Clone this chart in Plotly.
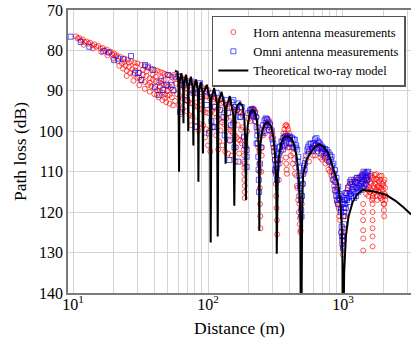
import math
import plotly.graph_objects as go

# ---------------- data (distance in m, path loss in dB) ----------------
horn_near = [
    (10.5,76.5),(10.8,77.0),(11.1,76.9),(11.4,77.5),(11.8,77.3),(12.2,77.9),(12.6,77.8),(13.0,78.3),
    (13.4,78.1),(13.9,78.7),(14.4,78.5),(14.9,79.1),(15.4,78.9),(16.0,79.5),(16.6,79.4),(17.2,80.0),
    (17.8,79.8),(18.4,80.5),(19.0,80.3),(19.6,81.0),(20.2,80.8),(20.8,81.5),(12.0,78.6),(14.0,79.5),
    (16.2,80.4),(18.0,81.2),(19.8,82.0),
    (21,81.2),(22.5,81.6),(24,82.0),(25.5,82.3),(27,82.7),(28.5,83.0),(30,83.2),(32,83.6),(34,83.9),
    (36,84.3),(38,84.5),(40,84.8),(42,85.0),(44,85.3),(46,85.5),(48,85.8),(50,86.0),(52,86.2),(54,86.5),
    (21.5,82.6),(23,83.2),(24.5,83.8),(26,84.1),(27.5,84.6),(29,85.0),(31,85.5),(33,86.0),(35,86.3),
    (37,86.9),(39,87.2),(41,87.6),(43,87.9),(45,88.2),(47,88.4),(49,88.8),(51,88.9),(53,89.3),
    (22,83.8),(23.5,84.5),(25,85.0),(26.5,85.6),(28,86.0),(30,86.8),(32,87.3),(34,87.8),(36,88.5),
    (38,88.8),(40,89.3),(42,89.8),(44,90.0),(46,90.4),(48,90.8),(50,91.2),(52,91.0),(54,91.6),
    (25,86.3),(28,87.5),(31,88.6),(34,89.5),(37,90.2),(40,90.8),(43,91.6),(46,92.3),(49,92.8),(52,93.2),
    (55,93.6),(33,84.8),(39,86.0),(45,86.8),(29,84.0),(35,85.2),(41,86.5),(47,87.3),(53,87.8),(26,83.0),
    (24,82.9),(37,88.0),(44,89.0),(50,90.0),(31,86.7),(42,91.0),(48,91.8),
]
horn_mid = [
    (56,86.0),(60,86.3),(64,86.8),(68,87.2),(72,87.6),(76,88.0),(80,88.3),(85,88.7),(90,89.0),(95,89.5),
    (100,89.8),(58,88.2),(62,88.6),(66,89.0),(70,89.4),(74,89.8),(78,90.2),(83,90.5),(88,90.8),(93,91.2),
    (98,91.4),(103,91.8),(56,90.0),(59,90.8),(62,91.3),(65,91.8),(68,92.3),(71,92.6),(74,93.0),(77,93.2),
    (80,93.8),(84,94.0),(88,94.5),(92,94.8),(96,95.3),(100,95.5),(57,92.5),(61,93.6),(65,94.5),(69,95.0),
    (73,96.0),(77,96.3),(82,97.5),(87,98.2),(92,98.5),(97,99.5),(102,100.0),(63,95.8),(75,98.5),(85,99.8),
    (95,101.5),(100,103.5),(104,105.0),(70,90.5),(81,91.8),(90,92.5),(58,87.0),(67,88.0),
    (106,91.5),(110,92.0),(114,91.8),(118,92.5),(122,92.3),(126,93.0),(130,92.8),(135,93.5),(140,93.3),
    (145,94.0),(150,94.2),(155,94.5),(160,95.0),(165,94.7),(170,95.2),(175,95.5),(180,96.0),
    (107,95.0),(112,95.5),(117,96.5),(122,97.0),(127,97.8),(132,98.3),(138,99.0),(143,99.5),(148,100.0),
    (153,100.5),(158,101.0),(163,101.5),(168,102.0),(173,102.3),(178,103.0),
    (108,99.0),(115,101.0),(121,102.5),(128,103.5),(134,105.0),(141,105.5),(150,106.0),(160,107.5),(170,105.5),
    (184,104.5),(185,106.0),(185,107.5),(186,109.0),(186,110.5),(186,112.0),(187,113.5),(187,115.0),
    (187,116.5),(186,108.0),(183,101.5),(181,99.0),
    (111,93.8),(119,94.3),(131,95.4),(137,96.8),(147,96.4),(156,97.8),(166,98.4),(176,99.6),(124,99.8),
    (145,102.4),(162,104.0),(119,104.5),
]
horn_far = [
    (192,104),(195,100),(200,97),(205,95.5),(210,94.6),(215,94.3),(220,94.6),(225,95.2),(230,96.5),
    (235,99.0),(238,102),(240,105),(241,110),(242,114),(243,118),(244,121),(245,124),(205,97.5),(215,96.0),
    (225,97.5),(232,100),(218,95.0),(208,96.2),(212,95.0),(236,104),(239,108),
    (248,110),(250,106),(252,104),(256,101),(262,99),(268,97.8),(275,97.0),(282,97.2),(290,98.0),(297,99.5),
    (303,101.5),(305,104),(308,104),(310,106),(312,107),(313,110),(315,110),(318,113),(320,116),(322,119),
    (324,122),(325,125.5),(265,100.5),(285,99),(295,101.5),(272,98.5),(300,100.5),
    (335,112),(340,108),(348,105),(355,102.5),(362,100.5),(368,99.5),(374,98.6),(380,98.4),(386,98.8),
    (392,99.5),(398,100.5),(405,101.5),(412,103),(420,104),(428,105.5),(436,107),(444,109),(452,111),
    (460,114),(466,117),(472,120),(478,123),(483,125),(486,121),(378,106.5),(380,108),(382,109.5),
    (384,110.5),(475,118),(480,121.5),(485,124.5),(376,100.5),(388,101),(370,102),(395,103),
    (345,107),(360,104),(400,104),(410,106),(425,108),(440,110.5),(455,113.5),(470,116),(392,104),(365,101.5),
    (495,118),(505,113),(515,110),(530,107),(550,105.5),(570,104.5),(590,104),(610,103.5),(630,103.2),
    (650,103.5),(670,104),(690,104.5),(710,105),(730,105.5),(750,106),(770,106.5),(790,107.5),(810,108.5),
    (830,110),(850,111),(870,112.5),(890,114),(910,116),(930,119),(950,122),(965,125),(980,128),(995,130.5),
    (1005,127),(700,107),(740,108),(780,109.5),(820,111),(860,113.5),(900,117.5),(940,121),(960,119),
    (650,105),(600,106),
    (560,107.5),(620,106),(680,106.5),(720,106.2),(760,107.2),(800,110),(840,112),(880,115),(920,118),
    (985,126),
    (1010,124),(1020,121),(1030,119),(1045,117),(1060,115.5),(1080,114.5),(1100,113.5),(1130,113),
    (1160,112.5),(1200,112),(1250,111.5),(1300,111.5),(1350,111.8),(1400,111),(1450,111.3),(1500,111.5),
    (1550,111.8),(1600,111),(1650,111.5),(1700,112),(1750,111.8),(1800,112),(1850,112.5),(1900,112),
    (1950,113),(2000,113.5),(2050,114),
    (1420,114),(1480,115.5),(1540,116),(1600,114.5),(1660,116.5),(1720,115),(1780,116),(1840,115),
    (1900,116.5),(1960,117),(2020,118),(2060,117),(1500,113.5),(1560,113.8),(1700,114),(1800,113.8),
    (1120,115),(1180,114.5),(1230,113.5),(1280,113),(1330,113.5),(1380,112.5),(1430,112),(1470,113),
    (1510,112.2),(1530,114.5),(1570,115),(1590,112.5),(1620,113),(1640,117),(1680,113.5),(1690,115.5),
    (1730,113),(1760,114.5),(1790,117),(1820,113.5),(1860,114),(1880,116),(1920,114),(1940,115.5),
    (1970,114.5),(1990,112.5),(2040,115.5),(2070,116),(1380,110.5),(1450,110.2),(1610,110.5),(1710,110.8),
    (1760,110.6),(1870,111),(1930,111),(2030,112),
    (1410,118),(1410,120),(1410,122),(1410,124.5),(1412,126.5),(1412,129.5),
    (1655,116),(1655,118),(1655,120),(1655,122),(1655,124),(1655,126),(1657,128.5),
    (1990,116),(2000,118),(2010,119.5),(2020,121),(1015,127),(1025,125),(1040,121),
]

omni_near = [
    (9.6,76.6),(11.4,77.9),(13.2,79.1),(16.8,80.2),(18.4,80.5),(20.2,82.4),(21.7,82.0),(23.5,82.2),
    (26.9,81.4),(28.8,85.5),(32.1,87.3),(34.2,83.6),(35.8,84.0),(38.9,84.8),(40.5,89.0),(43.6,91.0),
    (46.6,89.8),(49.4,88.5),(50.8,86.1),(53.8,88.5),(55.3,89.8),(30.5,85.6),(45,87.5),
]
omni_mid = [
    (57.5,86.5),(60.6,86.5),(62,95.2),(63.8,87.3),(66,88.5),(69.5,92.3),(72,88.0),(75.7,87.7),(78,90.5),
    (82.5,98.9),(85,89.5),(87.2,88.1),(90,91.5),(95,90.0),(98,93.5),(102,100.5),(103.5,90.6),(106,97.5),
    (109.5,91.4),(109.5,98.9),(112,99.0),(113,94.0),(116,90.5),(122.7,94.7),(126,92.0),(130,96.5),
    (133,101.0),(137.5,92.3),(141,95.5),(144,107.1),(145.6,102.1),(148,98.5),(150,92.8),(154,92.3),
    (154,98.0),(157,104.0),(160,94.0),(163,94.7),(167.6,107.5),(167.6,93.1),(172,96.5),(175,96.4),
    (178,94.0),(185,101.3),(188,103.5),(193.5,104.6),(193.5,108.8),(193.5,106.3),(198.8,95.5),
]
omni_far = [
    (205,94.8),(210,94.5),(216.5,94.7),(222,95.5),(226,96.5),(229,99),(229,103.0),(234,103),(236,106.3),
    (237,109.5),(238,112),(239,115),(232,101),
    (249.8,100.5),(256,98.5),(262,97.3),(267.5,96.8),(273,97.0),(280,97.8),(287.5,98.4),(295,100),
    (304.5,103),(309,105),(313.6,107.1),(318,108.5),(322.6,109.2),(320,110.5),(324,112),(328,108),
    (332,105.5),(336,104),(246,104),(243,108),
    (341.4,103.8),(350,102.5),(361,101.7),(372,101.3),(383,101.2),(394,101.5),(405,101.3),(418,101.6),
    (430,102.0),(440,102.1),(450,103.5),(458,104.5),(466,106.3),(472,109),(476,111),(480,112),(484,114),
    (488,117),(490,119.5),(493,121.1),(480,113.5),(486,115.5),(370,103.5),(400,103.0),(430,104.0),(360,104.5),
    (497,116),(502,113),(508,110.5),(515,108.5),(523,107.9),(535,106),(545,104.5),(552,103.8),(565,103.2),
    (580,103.0),(603,103),(620,102.0),(636,101.7),(650,102.5),(665,102.8),(680,103.3),(696,103.8),
    (715,104.2),(735,104.4),(757,104.6),(780,105.2),(800,105.8),(824,106.3),(848,108),(872,109.6),
    (895,111.5),(922,113.7),(940,115.5),(952,117),(965,119.5),(978,123.6),(990,126),(1003,128.5),
    (600,104.8),(640,104.2),(690,105.5),(740,106.5),(790,107.5),(830,108.5),
    (355,103.5),(380,102.8),(410,103),(445,104),(462,107.5),(520,109.5),(560,105.0),(590,104.5),
    (625,103.5),(660,104.2),(700,105),(750,105.5),(810,107),(860,110.5),(880,112.5),(910,114.5),
    (270,98.5),(284,99.7),(300,102),(315,109.5),(218,96.2),(224,97.5),(212,95.8),(258,100),(330,107),
    (338,105.5),
    (850,112),(870,114.5),(890,116),(905,117),(920,118),(935,116.5),(960,116),(985,117.5),(1000,118),
    (1003,121),(1010,119),(1020,120),(1025,117),(1040,118),(1045,115.3),(1063,115.3),(1070,117),(1090,114),
    (1100,116),(1125,112.5),(1130,115.5),(1160,113),(1170,114.5),(1192,113.7),(1200,115),(1230,112.5),
    (1240,114.2),(1260,112.8),(1280,114),(1295,112),(1320,113.5),(1330,111.5),(1360,113),(1370,111.2),
    (1400,112.5),(1413,110.8),(1440,112),(1460,110.5),(1480,111.5),(1500,110.2),(1538,110.0),
    (1050,119),(1080,116.5),(1110,117.5),(1150,116),(1210,116.5),(1250,116),(1300,115),(1350,114.5),
    (1390,114),(1430,113.5),(1470,113),(1510,112),(1150,112),(1270,111.5),(1420,110),(1520,111),
    (990,127),(1000,129),(1010,126),(1018,123),(975,125),(960,120),
]

model_curve = [
    (57,85.0),(59.5,85.3),
    (60.4,88.0),(61.0,110.0),(61.6,88.0),(63.5,85.6),
    (65.4,88.5),(65.8,98.0),(66.3,88.5),(68.7,86.0),
    (70.8,89.0),(71.4,100.0),(72.0,89.0),(74.7,86.5),
    (77.2,89.5),(77.9,103.5),(78.6,89.5),(81.5,87.2),
    (84.2,90.0),(84.9,112.5),(85.7,90.0),(88.5,87.8),
    (91.1,90.5),(91.8,105.5),(92.6,90.5),(98,88.5),
    (103.5,92.0),(104.7,127.5),(106,92.0),(111,89.3),
    (116.5,93.0),(118,126.0),(119.5,93.0),(126,90.2),
    (133,94.0),(135,108.0),(137,94.0),(145,91.3),
    (154,96.0),(156.6,118.4),(159.5,96.0),
    (165,93.6),(172,93.0),(180,93.6),
    (186,97.0),(189,103.0),(191,117.0),(193,104.0),(197,98.5),
    (205,95.3),(214,94.7),(223,95.3),(231,97.8),(236,102.0),(238.5,107.0),
    (240,124.6),(241.8,108.0),(245,103.0),(252,100.0),(262,98.3),(278,97.8),(294,98.8),(305,101.5),
    (313,105.5),(318,110.5),(321,116.0),
    (323,130.3),(325,117.0),(329,110.5),(336,106.0),(348,103.0),(365,101.5),(390,101.2),(415,101.8),
    (437,103.5),(455,106.5),(468,110.5),(477,115.5),(483,121.5),
    (488,160.0),(493,125.0),(500,115.0),(508,110.5),(537,107.0),(570,105.5),(620,103.8),(670,103.2),
    (720,103.8),(780,105.5),(850,109.5),(920,113.0),(955,117.0),(975,122.5),(990,130.0),
    (1000,165.0),(1020,135.0),(1050,126.0),(1100,121.0),(1180,117.5),(1280,115.5),(1400,114.5),
    (1550,114.7),(1800,115.1),(2100,115.8),(2450,117.2),(2800,118.8),(3200,120.6),
]

x_tick_vals = [10, 100, 1000]
x_tick_text = ["10<sup>1</sup>", "10<sup>2</sup>", "10<sup>3</sup>"]
x_minor_vals = [20, 30, 40, 50, 60, 70, 80, 90, 200, 300, 400, 500, 600, 700, 800, 900, 2000, 3000]
y_tick_vals = [70, 80, 90, 100, 110, 120, 130, 140]

# ---------------- figure ----------------
horn = horn_near + horn_mid + horn_far
omni = omni_near + omni_mid + omni_far

SERIF = "Liberation Serif, Times New Roman, serif"
GRID = "#d4d4d4"

fig = go.Figure()
fig.add_trace(go.Scatter(
    x=[p[0] for p in horn], y=[p[1] for p in horn], mode="markers",
    name="Horn antenna measurements",
    marker=dict(symbol="circle-open", size=5, color="rgba(255,0,0,0.65)", line=dict(width=1)),
))
fig.add_trace(go.Scatter(
    x=[p[0] for p in omni], y=[p[1] for p in omni], mode="markers",
    name="Omni antenna measurements",
    marker=dict(symbol="square-open", size=5, color="rgba(0,0,255,0.65)", line=dict(width=1)),
))
fig.add_trace(go.Scatter(
    x=[p[0] for p in model_curve], y=[p[1] for p in model_curve], mode="lines",
    name="Theoretical two-ray model",
    line=dict(color="black", width=2),
))

fig.update_layout(
    width=411, height=343,
    margin=dict(l=68, r=0, t=10, b=50, autoexpand=False),
    paper_bgcolor="white", plot_bgcolor="white",
    font=dict(family=SERIF, color="black"),
    showlegend=True,
    legend=dict(
        x=0.985, y=0.979, xanchor="right", yanchor="top",
        bgcolor="white", bordercolor="#555555", borderwidth=1.5,
        font=dict(family=SERIF, size=12.5, color="black"),
        tracegroupgap=0, itemwidth=30,
    ),
    xaxis=dict(
        type="log", range=[math.log10(9.18), math.log10(3190)],
        tickmode="array", tickvals=x_tick_vals, ticktext=x_tick_text,
        showgrid=True, gridcolor=GRID, gridwidth=1,
        minor=dict(tickmode="array", tickvals=x_minor_vals, showgrid=True, gridcolor=GRID, gridwidth=1, ticks=""),
        showline=True, linecolor="#7a7a7a", linewidth=1.5, mirror=True,
        ticks="", zeroline=False, automargin=False,
        tickfont=dict(family=SERIF, size=16, color="black"),
        title=dict(text="Distance (m)", font=dict(family=SERIF, size=17.5, color="black"), standoff=6),
    ),
    yaxis=dict(
        range=[140, 70], tickmode="array", tickvals=y_tick_vals,
        showgrid=True, gridcolor=GRID, gridwidth=1,
        showline=True, linecolor="#7a7a7a", linewidth=1.5, mirror=False,
        ticks="", zeroline=False, automargin=False,
        tickfont=dict(family=SERIF, size=16, color="black"),
        title=dict(text="Path loss (dB)", font=dict(family=SERIF, size=17.5, color="black"), standoff=8),
    ),
)

# pull the x tick labels a little closer to the axis, as in the reference
try:
    fig.update_xaxes(ticklabelstandoff=-4, title_standoff=10)
except ValueError:
    pass

fig.write_html("out.html", post_script="document.body.style.margin='0';",
               config={"displayModeBar": False})
